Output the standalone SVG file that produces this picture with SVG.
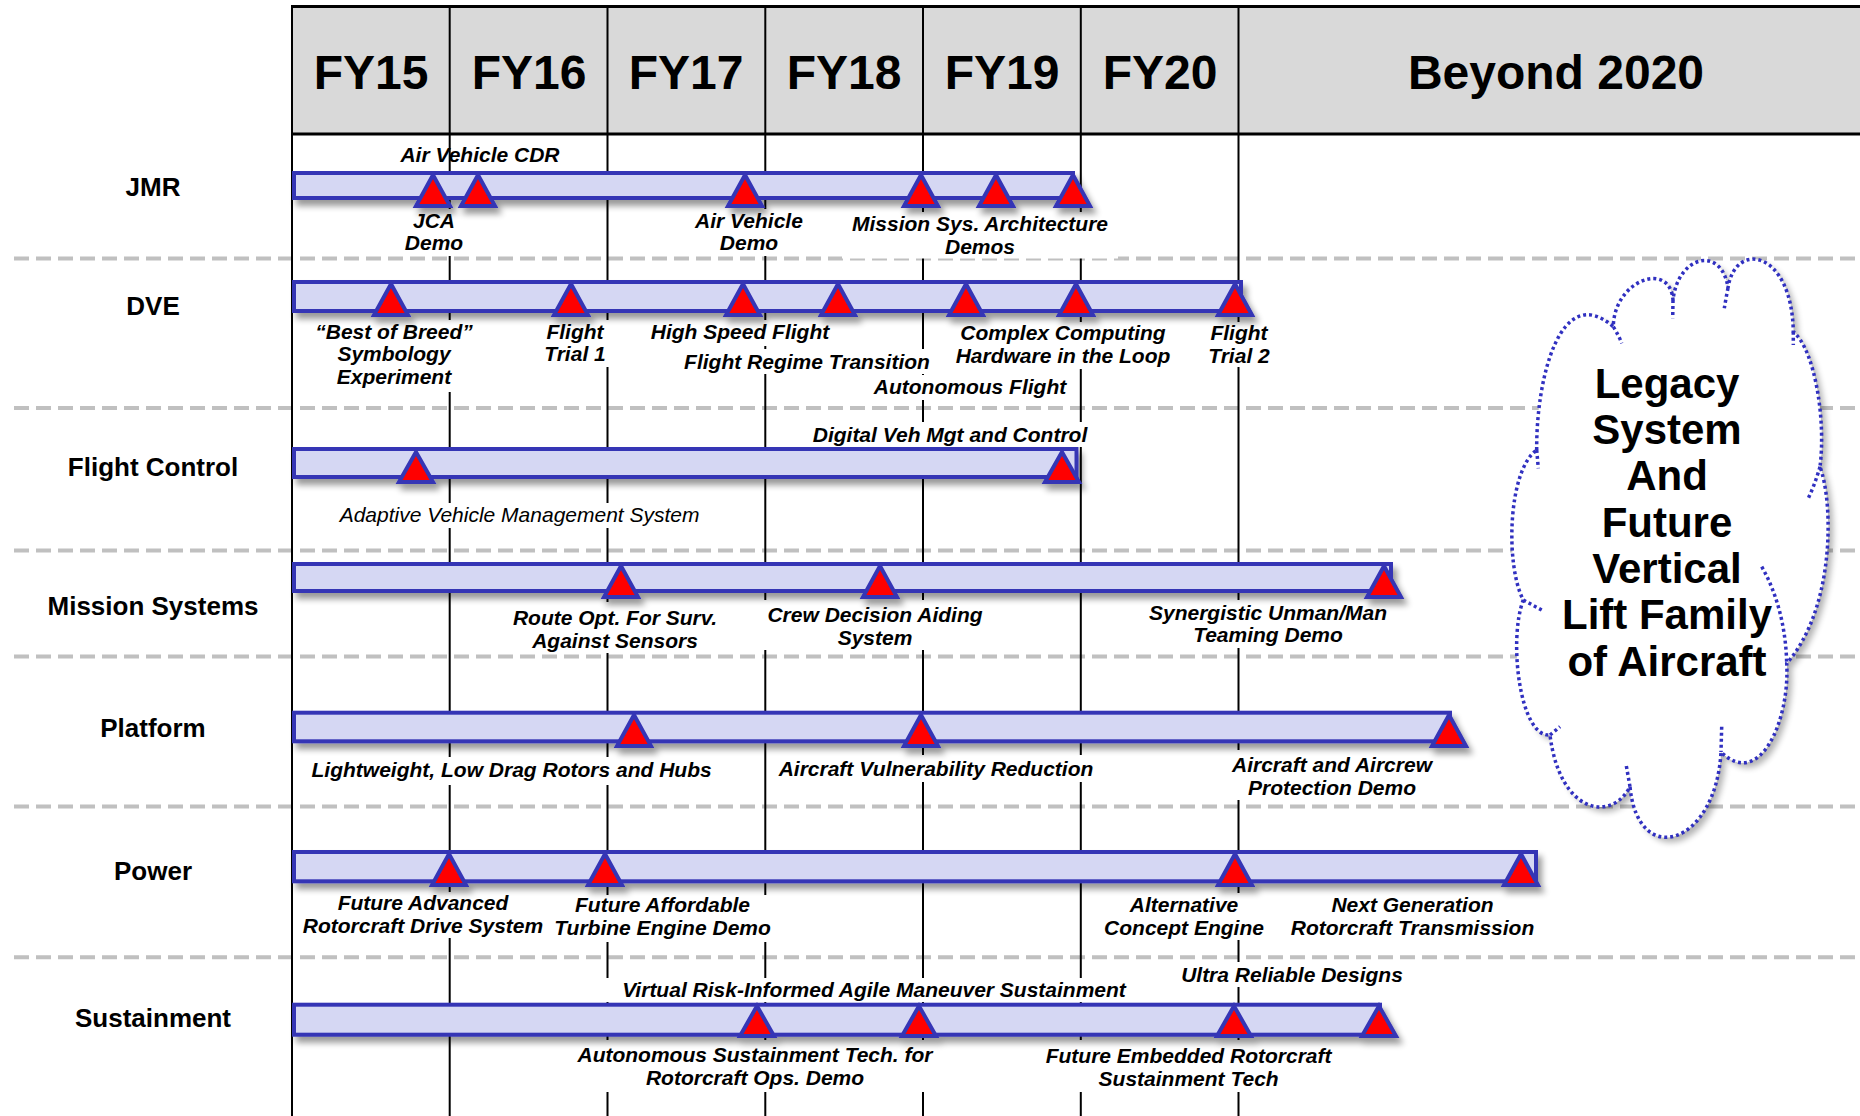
<svg xmlns="http://www.w3.org/2000/svg" width="1860" height="1116" viewBox="0 0 1860 1116">
<defs>
<style>
.hdr{font-family:"Liberation Sans",Arial,sans-serif;font-weight:bold;font-size:48px;text-anchor:middle;fill:#000}
.row{font-family:"Liberation Sans",Arial,sans-serif;font-weight:bold;font-size:26px;text-anchor:middle;fill:#000}
.lb{font-family:"Liberation Sans",Arial,sans-serif;font-weight:bold;font-style:italic;font-size:21px;text-anchor:middle;fill:#000}
.lr{font-family:"Liberation Sans",Arial,sans-serif;font-style:italic;font-size:21px;text-anchor:middle;fill:#000}
.cl{font-family:"Liberation Sans",Arial,sans-serif;font-weight:bold;font-size:42px;text-anchor:middle;fill:#000}
.sep{stroke:#c0c0c0;stroke-width:4;stroke-dasharray:15 7;fill:none}
.vl{stroke:#000;stroke-width:2;fill:none}
.box{fill:#fff}
.bar{fill:#d5d7f3;stroke:#3535b5;stroke-width:4}
.tri{fill:#ff0000;stroke:#3535b5;stroke-width:4;stroke-linejoin:miter}
.cloud{fill:none;stroke:#3030c0;stroke-width:3.5;stroke-dasharray:3 3}
</style>
<filter id="sh" x="-3%" y="-40%" width="106%" height="200%">
<feGaussianBlur in="SourceAlpha" stdDeviation="3"/>
<feOffset dx="4" dy="6" result="o"/>
<feComponentTransfer><feFuncA type="linear" slope="0.4"/></feComponentTransfer>
<feMerge><feMergeNode/><feMergeNode in="SourceGraphic"/></feMerge>
</filter>
<filter id="csh" x="-10%" y="-10%" width="125%" height="125%">
<feGaussianBlur in="SourceAlpha" stdDeviation="3"/>
<feOffset dx="5" dy="5"/>
<feComponentTransfer><feFuncA type="linear" slope="0.3"/></feComponentTransfer>
<feMerge><feMergeNode/><feMergeNode in="SourceGraphic"/></feMerge>
</filter>
</defs>
<rect width="1860" height="1116" fill="#fff"/>

<g id="header">
<rect x="292" y="6" width="1568" height="128" fill="#d9d9d9"/>
<text class="hdr" x="371" y="89">FY15</text>
<text class="hdr" x="529" y="89">FY16</text>
<text class="hdr" x="686" y="89">FY17</text>
<text class="hdr" x="844" y="89">FY18</text>
<text class="hdr" x="1002" y="89">FY19</text>
<text class="hdr" x="1160" y="89">FY20</text>
<text class="hdr" x="1556" y="89">Beyond 2020</text>
</g>

<g id="connectors">
<line class="sep" x1="14" y1="258.6" x2="1860" y2="258.6"/>
<line class="sep" x1="14" y1="408" x2="1860" y2="408"/>
<line class="sep" x1="14" y1="550.4" x2="1860" y2="550.4"/>
<line class="sep" x1="14" y1="656.5" x2="1860" y2="656.5"/>
<line class="sep" x1="14" y1="806.6" x2="1860" y2="806.6"/>
<line class="sep" x1="14" y1="957.3" x2="1860" y2="957.3"/>
<line class="vl" x1="292" y1="6" x2="292" y2="1116"/>
<line class="vl" x1="449.7" y1="6" x2="449.7" y2="1116"/>
<line class="vl" x1="607.5" y1="6" x2="607.5" y2="1116"/>
<line class="vl" x1="765.3" y1="6" x2="765.3" y2="1116"/>
<line class="vl" x1="923" y1="6" x2="923" y2="1116"/>
<line class="vl" x1="1080.8" y1="6" x2="1080.8" y2="1116"/>
<line class="vl" x1="1238.5" y1="6" x2="1238.5" y2="1116"/>
<line x1="291" y1="6.5" x2="1860" y2="6.5" stroke="#000" stroke-width="3"/>
<line x1="291" y1="134" x2="1860" y2="134" stroke="#000" stroke-width="3"/>
</g>

<g id="label-boxes">
<rect class="box" x="388" y="209" width="92" height="47"/>
<rect class="box" x="678" y="209" width="140" height="47"/>
<rect class="box" x="842" y="212" width="276" height="46.5"/>
<rect class="box" x="307" y="320" width="171" height="72"/>
<rect class="box" x="542" y="320" width="67" height="47"/>
<rect class="box" x="645" y="320" width="190" height="26"/>
<rect class="box" x="678" y="349" width="258" height="25"/>
<rect class="box" x="868" y="375" width="204" height="25"/>
<rect class="box" x="950" y="322" width="226" height="47"/>
<rect class="box" x="1185" y="322" width="87" height="45"/>
<rect class="box" x="805" y="422" width="290" height="25"/>
<rect class="box" x="330" y="503" width="380" height="25"/>
<rect class="box" x="505" y="602" width="219" height="51"/>
<rect class="box" x="762" y="600" width="226" height="50"/>
<rect class="box" x="1135" y="600" width="265" height="48"/>
<rect class="box" x="305" y="757" width="413" height="28"/>
<rect class="box" x="772" y="755" width="328" height="27"/>
<rect class="box" x="1180" y="750" width="260" height="50"/>
<rect class="box" x="298" y="892" width="250" height="46"/>
<rect class="box" x="550" y="895" width="225" height="47"/>
<rect class="box" x="1083" y="893" width="197" height="47"/>
<rect class="box" x="1283" y="893" width="257" height="47"/>
<rect class="box" x="600" y="978" width="546" height="24"/>
<rect class="box" x="1175" y="962" width="235" height="25"/>
<rect class="box" x="570" y="1040" width="370" height="52"/>
<rect class="box" x="986" y="1040" width="349" height="52"/>
</g>

<g id="row-jmr">
<text class="row" x="153" y="196">JMR</text>
<g filter="url(#sh)">
<rect class="bar" x="294" y="173" width="779" height="25"/>
<polygon class="tri" points="433,175 416,206 450,206"/>
<polygon class="tri" points="478,175 461,206 495,206"/>
<polygon class="tri" points="745,175 728,206 762,206"/>
<polygon class="tri" points="921,175 904,206 938,206"/>
<polygon class="tri" points="996,175 979,206 1013,206"/>
<polygon class="tri" points="1073,175 1056,206 1090,206"/>
</g>
<text class="lb" x="480" y="161.5">Air Vehicle CDR</text>
<text class="lb" x="434" y="227.5">JCA</text>
<text class="lb" x="434" y="250">Demo</text>
<text class="lb" x="749" y="227.5">Air Vehicle</text>
<text class="lb" x="749" y="250">Demo</text>
<text class="lb" x="980" y="231">Mission Sys. Architecture</text>
<text class="lb" x="980" y="254">Demos</text>
</g>

<g id="row-dve">
<text class="row" x="153" y="315">DVE</text>
<g filter="url(#sh)">
<rect class="bar" x="294" y="282" width="947" height="29"/>
<polygon class="tri" points="391,284 374,315 408,315"/>
<polygon class="tri" points="571,284 554,315 588,315"/>
<polygon class="tri" points="743,284 726,315 760,315"/>
<polygon class="tri" points="838,284 821,315 855,315"/>
<polygon class="tri" points="966,284 949,315 983,315"/>
<polygon class="tri" points="1076,284 1059,315 1093,315"/>
<polygon class="tri" points="1235,284 1218,315 1252,315"/>
</g>
<text class="lb" x="394" y="338.5">“Best of Breed”</text>
<text class="lb" x="394" y="361">Symbology</text>
<text class="lb" x="394" y="384">Experiment</text>
<text class="lb" x="575" y="338.5">Flight</text>
<text class="lb" x="575" y="361">Trial 1</text>
<text class="lb" x="740" y="338.5">High Speed Flight</text>
<text class="lb" x="807" y="368.5">Flight Regime Transition</text>
<text class="lb" x="970" y="393.5">Autonomous Flight</text>
<text class="lb" x="1063" y="340">Complex Computing</text>
<text class="lb" x="1063" y="363">Hardware in the Loop</text>
<text class="lb" x="1239" y="340">Flight</text>
<text class="lb" x="1239" y="363">Trial 2</text>
</g>

<g id="row-flight-control">
<text class="row" x="153" y="476">Flight Control</text>
<g filter="url(#sh)">
<rect class="bar" x="294" y="449" width="782.5" height="28"/>
<polygon class="tri" points="416,452 399,482 433,482"/>
<polygon class="tri" points="1062,452 1045,482 1079,482"/>
</g>
<text class="lb" x="950" y="441.5">Digital Veh Mgt and Control</text>
<text class="lr" x="519.6" y="521.5">Adaptive Vehicle Management System</text>
</g>

<g id="row-mission-systems">
<text class="row" x="153" y="615">Mission Systems</text>
<g filter="url(#sh)">
<rect class="bar" x="294" y="564" width="1097" height="27"/>
<polygon class="tri" points="621,566 604,597 638,597"/>
<polygon class="tri" points="880,566 863,597 897,597"/>
<polygon class="tri" points="1384,566 1367,597 1401,597"/>
</g>
<text class="lb" x="615" y="625">Route Opt. For Surv.</text>
<text class="lb" x="615" y="647.5">Against Sensors</text>
<text class="lb" x="875" y="621.5">Crew Decision Aiding</text>
<text class="lb" x="875" y="644.5">System</text>
<text class="lb" x="1268" y="620">Synergistic Unman/Man</text>
<text class="lb" x="1268" y="642">Teaming Demo</text>
</g>

<g id="row-platform">
<text class="row" x="153" y="737">Platform</text>
<g filter="url(#sh)">
<rect class="bar" x="294" y="712.7" width="1156" height="28.6"/>
<polygon class="tri" points="634,715 617,746 651,746"/>
<polygon class="tri" points="921,715 904,746 938,746"/>
<polygon class="tri" points="1449,715 1432,746 1466,746"/>
</g>
<text class="lb" x="511.6" y="776.7">Lightweight, Low Drag Rotors and Hubs</text>
<text class="lb" x="936" y="776">Aircraft Vulnerability Reduction</text>
<text class="lb" x="1332" y="771.5">Aircraft and Aircrew</text>
<text class="lb" x="1332" y="794.5">Protection Demo</text>
</g>

<g id="row-power">
<text class="row" x="153" y="880">Power</text>
<g filter="url(#sh)">
<rect class="bar" x="294" y="852" width="1242" height="29.3"/>
<polygon class="tri" points="449,854 432,885 466,885"/>
<polygon class="tri" points="605,854 588,885 622,885"/>
<polygon class="tri" points="1235,854 1218,885 1252,885"/>
<polygon class="tri" points="1521,854 1504,885 1538,885"/>
</g>
<text class="lb" x="423" y="910">Future Advanced</text>
<text class="lb" x="423" y="933">Rotorcraft Drive System</text>
<text class="lb" x="662.5" y="912">Future Affordable</text>
<text class="lb" x="662.5" y="935">Turbine Engine Demo</text>
<text class="lb" x="1184" y="911.5">Alternative</text>
<text class="lb" x="1184" y="934.5">Concept Engine</text>
<text class="lb" x="1412.5" y="911.5">Next Generation</text>
<text class="lb" x="1412.5" y="934.5">Rotorcraft Transmission</text>
</g>

<g id="row-sustainment">
<text class="row" x="153" y="1027">Sustainment</text>
<g filter="url(#sh)">
<rect class="bar" x="294" y="1004.7" width="1086" height="30"/>
<polygon class="tri" points="757,1006 740,1036 774,1036"/>
<polygon class="tri" points="919,1006 902,1036 936,1036"/>
<polygon class="tri" points="1234,1006 1217,1036 1251,1036"/>
<polygon class="tri" points="1379,1006 1362,1036 1396,1036"/>
</g>
<text class="lb" x="874" y="996.5">Virtual Risk-Informed Agile Maneuver Sustainment</text>
<text class="lb" x="1292" y="981.5">Ultra Reliable Designs</text>
<text class="lb" x="755" y="1061.5">Autonomous Sustainment Tech. for</text>
<text class="lb" x="755" y="1084.5">Rotorcraft Ops. Demo</text>
<text class="lb" x="1188.6" y="1063">Future Embedded Rotorcraft</text>
<text class="lb" x="1188.6" y="1086">Sustainment Tech</text>
</g>

<g id="cloud">
<path filter="url(#csh)" fill="#fff" d="M1536.7,450 C1536,380 1560,280 1613.3,326.7 C1614,280 1670,260 1673,300 C1678,255 1722,245 1728,288 C1735,240 1792,250 1793.3,331.7 C1815,350 1826,420 1820,466.7 C1834,505 1834,610 1786.7,663.3 C1790,720 1760,790 1721,752 C1716,845 1638,870 1630,786.7 C1612,822 1560,815 1550,735 C1520,738 1508,640 1523.3,600 C1505,565 1508,470 1536.7,450 Z"/>
<path class="cloud" d="M1536.7,450 C1536,380 1560,280 1613.3,326.7 C1614,280 1670,260 1673,300 C1678,255 1722,245 1728,288 C1735,240 1792,250 1793.3,331.7 C1815,350 1826,420 1820,466.7 C1834,505 1834,610 1786.7,663.3 C1790,720 1760,790 1721,752 C1716,845 1638,870 1630,786.7 C1612,822 1560,815 1550,735 C1520,738 1508,640 1523.3,600 C1505,565 1508,470 1536.7,450 Z"/>
<path class="cloud" d="M1613.3,326.7 Q1619,336 1621.7,343.3 M1673,300 L1672.7,318.3 M1728,288 Q1726,298 1724.3,308.3 M1793.3,331.7 L1793.3,345 M1820,466.7 Q1815,484 1808.3,498.3 M1761.7,566.7 C1778,595 1786,630 1786.7,663.3 M1721.7,726.7 L1721,752 M1630,786.7 L1626,764 M1550,735 L1560,726.7 M1523.3,600 L1541.7,610 M1536.7,450 L1538.3,468.3"/>
<text class="cl" x="1667" y="398.3">Legacy</text>
<text class="cl" x="1667" y="444">System</text>
<text class="cl" x="1667" y="490">And</text>
<text class="cl" x="1667" y="536.7">Future</text>
<text class="cl" x="1667" y="583.3">Vertical</text>
<text class="cl" x="1667" y="629.3">Lift Family</text>
<text class="cl" x="1667" y="675.5">of Aircraft</text>
</g>
</svg>
